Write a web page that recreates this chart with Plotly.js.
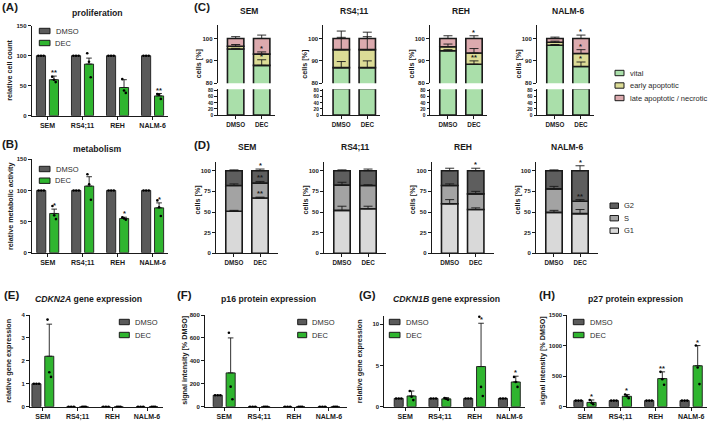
<!DOCTYPE html>
<html>
<head>
<meta charset="utf-8">
<script src="https://cdn.plot.ly/plotly-3.0.1.min.js"></script>
<style>
  html, body { margin: 0; padding: 0; background: #ffffff; }
  #fig { width: 709px; height: 421px; }
</style>
</head>
<body>
<div id="fig"></div>
<script>
// ---------------- data ----------------
const cellLines = ['SEM', 'RS4;11', 'REH', 'NALM-6'];
const treatments = ['DMSO', 'DEC'];

// (A) proliferation – relative cell count
const prolifDmso = [100, 100, 100, 100];
const prolifDec = [60, 86, 47, 33];
const prolifDecErr = [6, 10, 13, 4];
const prolifDmsoReps = [[100, 100, 100], [100, 100, 100], [100, 100, 100], [100, 100, 100]];
const prolifDecReps = [[65, 60, 56], [104, 90, 64], [61, 42, 38], [36, 35, 28]];
const prolifStars = ['**', '', '', '**'];

// (B) metabolism – relative metabolic activity
const metabDmso = [100, 100, 100, 100];
const metabDec = [63, 107, 55, 72];
const metabDecErr = [7, 15, 2, 8];
const metabDmsoReps = [[100, 100, 100], [100, 100, 100], [100, 100, 100], [100, 100, 100]];
const metabDecReps = [[75, 60, 54], [126, 110, 85], [57, 55, 53], [84, 73, 59]];
const metabStars = ['*', '', '*', '*'];

// (C) apoptosis – cells [%], per cell line: [DMSO, DEC]
const apoNames = ['vital', 'early apoptotic', 'late apoptotic / necrotic'];
const apoVital = [[95.3, 88], [87, 87], [94.5, 88.5], [97, 87.5]];
const apoEarly = [[1.2, 5], [8, 8], [1.8, 5], [1.3, 5.8]];
const apoLate = [[3.5, 7], [5, 5], [3.7, 6.5], [1.7, 6.7]];
const apoVitalErr = [[0.3, 2.5], [2.7, 3], [0.5, 1.5], [0.3, 2]];
const apoEarlyErr = [[0.8, 1], [5.5, 5.8], [1.2, 2], [0.5, 1.7]];
const apoLateErr = [[0.8, 1.5], [3.3, 2.8], [1.2, 1.2], [0.6, 1.5]];
const apoVitalStars = ['*', '', '**', '*'];
const apoEarlyStars = ['*', '', '', '*'];
const apoLateStars = ['', '', '*', '*'];

// (D) cell cycle – cells [%], per cell line: [DMSO, DEC]
const cycleNames = ['G1', 'S', 'G2'];
const cycleG1 = [[51, 67], [52, 54], [60, 53], [49.5, 48]];
const cycleS = [[31, 18], [30.5, 28], [22, 19], [28.5, 15]];
const cycleG2 = [[18, 15], [17.5, 18], [18, 28], [22, 37]];
const cycleG1Err = [[1, 1], [5, 3], [5, 2], [2.5, 5]];
const cycleSErr = [[2, 2], [3.5, 1], [2, 3], [3, 2]];
const cycleG2Err = [[1, 2], [1, 2], [3, 3], [1, 6]];
const cycleG1Stars = ['**', '', '', ''];
const cycleSStars = ['**', '', '', '**'];
const cycleG2Stars = ['*', '', '*', '*'];

// (E) CDKN2A gene expression
const cdkn2aDmso = [1, 0, 0, 0];
const cdkn2aDec = [2.2, 0, 0, 0];
const cdkn2aDecErr = [1.4, 0, 0, 0];
const cdkn2aDmsoReps = [[1, 1, 1], [0, 0, 0], [0, 0, 0], [0, 0, 0]];
const cdkn2aDecReps = [[3.8, 1.5, 1.3], [0, 0, 0], [0, 0, 0], [0, 0, 0]];
const cdkn2aStars = ['', '', '', ''];

// (F) p16 protein expression
const p16Dmso = [100, 0, 0, 0];
const p16Dec = [295, 0, 0, 0];
const p16DecErr = [305, 0, 0, 0];
const p16DmsoReps = [[100, 100, 100], [0, 0, 0], [0, 0, 0], [0, 0, 0]];
const p16DecReps = [[645, 175, 65], [0, 0, 0], [0, 0, 0], [0, 0, 0]];
const p16Stars = ['', '', '', ''];

// (G) CDKN1B gene expression
const cdkn1bDmso = [1, 1, 1, 1];
const cdkn1bDec = [1.3, 0.95, 4.87, 3.0];
const cdkn1bDecErr = [0.6, 0.15, 5.25, 0.7];
const cdkn1bDmsoReps = [[1, 1, 1], [1, 1, 1], [1, 1, 1], [1, 1, 1]];
const cdkn1bDecReps = [[1.9, 1.2, 0.8], [1.05, 0.95, 0.85], [10.9, 2.4, 1.3], [3.6, 3.0, 2.4]];
const cdkn1bStars = ['', '', '*', '*'];

// (H) p27 protein expression
const p27Dmso = [100, 100, 100, 100];
const p27Dec = [70, 170, 460, 670];
const p27DecErr = [40, 30, 110, 330];
const p27DmsoReps = [[100, 100, 100], [100, 100, 100], [100, 100, 100], [100, 100, 100]];
const p27DecReps = [[110, 60, 40], [200, 170, 140], [570, 450, 360], [1000, 640, 370]];
const p27Stars = ['*', '*', '**', '*'];

// ---------------- styling & helpers ----------------
const FONT = 'Liberation Sans, Arial, Helvetica, sans-serif';
const INK = '#1a1a1a';
const DMSO_COL = '#5a5a5a';
const DEC_COL = '#2fb52f';
const APO_COLS = ['#aadfaa', '#dcdc96', '#dcaaae'];
const CYCLE_COLS = ['#d9d9d9', '#a3a3a3', '#5e5e5e'];

const W = 709, H = 421;
const fx = v => v / W;
const fy = v => 1 - v / H;

const layout = {
  width: W, height: H,
  margin: { l: 0, r: 0, t: 0, b: 0 },
  paper_bgcolor: '#ffffff', plot_bgcolor: 'rgba(0,0,0,0)',
  showlegend: false, barmode: 'overlay',
  font: { family: FONT, color: INK },
  annotations: [], shapes: []
};
const data = [];
const overlay = [];

function axisBase() {
  return {
    showline: true, linecolor: INK, linewidth: 1,
    ticks: 'outside', ticklen: 3, tickwidth: 1, tickcolor: INK,
    showgrid: false, zeroline: false, fixedrange: true, automargin: false,
    tickmode: 'array',
    tickfont: { family: FONT, size: 6, color: INK, weight: 'bold' }
  };
}
let xCount = 0, yCount = 0;
const nextX = () => { xCount++; return xCount === 1 ? 'x' : 'x' + xCount; };
const nextY = () => { yCount++; return yCount === 1 ? 'y' : 'y' + yCount; };
function setAxis(id, opts) {
  const n = id.length > 1 ? id.slice(1) : '';
  layout[id[0] + 'axis' + n] = Object.assign(axisBase(), opts);
}
function errStyle(arr, capW) {
  return { type: 'data', array: arr, arrayminus: arr.map(() => 0), symmetric: false,
           color: INK, thickness: 0.9, width: capW };
}
function text(x, y, t, size, extra) {
  layout.annotations.push(Object.assign({
    xref: 'paper', yref: 'paper', x: fx(x), y: fy(y), text: t, showarrow: false,
    xanchor: 'center', yanchor: 'middle',
    font: { family: FONT, size: size, color: INK, weight: 'bold' }
  }, extra || {}));
}
function yTitle(x, y, t) { text(x, y, t, 7.2, { textangle: -90 }); }
function legendItem(x, y, color, label, boxW) {
  layout.shapes.push({ type: 'rect', xref: 'paper', yref: 'paper',
    x0: fx(x), x1: fx(x + boxW), y0: fy(y + 2.7), y1: fy(y - 2.7),
    fillcolor: color, line: { color: INK, width: 1 } });
  text(x + boxW + 3.5, y, label, 7.5,
       { xanchor: 'left', font: { family: FONT, size: 7.5, color: '#2a2a2a' } });
}
function star(xid, yid, x, y, s) {
  layout.annotations.push({ xref: xid, yref: yid, x: x, y: y, text: s, showarrow: false,
    xanchor: 'center', yanchor: 'bottom', yshift: -3,
    font: { family: FONT, size: 7.5, color: INK, weight: 'bold' } });
}

// ---------------- grouped DMSO / DEC bar panels ----------------
const SHIFT = 0.185, BW = 0.26;
const catIdx = cellLines.map((_, i) => i);

function dotTrace(xid, yid, reps, shift, spread) {
  const xs = [], ys = [];
  reps.forEach((r, i) => r.forEach((v, k) => {
    xs.push(catIdx[i] + shift + (k - (r.length - 1) / 2) * spread);
    ys.push(v);
  }));
  return { type: 'scatter', mode: 'markers', xaxis: xid, yaxis: yid, x: xs, y: ys,
           marker: { size: 2.6, color: '#000000' }, cliponaxis: false, hoverinfo: 'skip' };
}

function groupedPanel(p) {
  const xid = nextX(), yid = nextY();
  setAxis(xid, { domain: [fx(p.l), fx(p.r)], anchor: yid, range: p.xRange,
    tickvals: catIdx, ticktext: cellLines,
    tickfont: { family: FONT, size: 7, color: INK, weight: 'bold' } });
  setAxis(yid, { domain: [fy(p.b), fy(p.t)], anchor: xid, range: p.yRange, tickvals: p.yTicks });
  data.push({ type: 'bar', xaxis: xid, yaxis: yid, x: catIdx, y: p.dmso, name: treatments[0],
    width: BW, offset: -SHIFT - BW / 2,
    marker: { color: DMSO_COL, line: { color: INK, width: 0.9 } }, hoverinfo: 'skip' });
  data.push({ type: 'bar', xaxis: xid, yaxis: yid, x: catIdx, y: p.dec, name: treatments[1],
    width: BW, offset: SHIFT - BW / 2,
    marker: { color: DEC_COL, line: { color: INK, width: 0.9 } },
    error_y: errStyle(p.decErr, 2.8), hoverinfo: 'skip' });
  overlay.push(dotTrace(xid, yid, p.dmsoReps, -SHIFT, 0.075));
  overlay.push(dotTrace(xid, yid, p.decReps, SHIFT, 0.05));
  p.stars.forEach((s, i) => { if (s) star(xid, yid, catIdx[i] + SHIFT, p.dec[i] + p.decErr[i], s); });
  text(p.titleX, p.titleY, p.title, 8.7);
  text(p.letterX, p.letterY, p.letter, 11.5, { xanchor: 'left' });
  yTitle(p.yTitleX, (p.t + p.b) / 2, p.yTitle);
  legendItem(p.legX, p.legY, DMSO_COL, treatments[0], p.legW);
  legendItem(p.legX, p.legY + p.legStep, DEC_COL, treatments[1], p.legW);
}

groupedPanel({ l: 31.7, r: 168, t: 25.7, b: 115.7, xRange: [-0.45, 3.44], yRange: [0, 150],
  yTicks: [0, 50, 100, 150], dmso: prolifDmso, dec: prolifDec, decErr: prolifDecErr,
  dmsoReps: prolifDmsoReps, decReps: prolifDecReps, stars: prolifStars,
  title: 'proliferation', titleX: 97, titleY: 12.7, letter: '(A)', letterX: 0, letterY: 7.5,
  yTitle: 'relative cell count', yTitleX: 10, legX: 39.3, legY: 31, legStep: 12, legW: 10.7 });

groupedPanel({ l: 32, r: 168, t: 159.3, b: 252.7, xRange: [-0.45, 3.44], yRange: [0, 150],
  yTicks: [0, 50, 100, 150], dmso: metabDmso, dec: metabDec, decErr: metabDecErr,
  dmsoReps: metabDmsoReps, decReps: metabDecReps, stars: metabStars,
  title: 'metabolism', titleX: 97, titleY: 149.3, letter: '(B)', letterX: 0, letterY: 143.5,
  yTitle: 'relative metabolic activity', yTitleX: 10, legX: 39.3, legY: 169, legStep: 11.7, legW: 10.7 });

groupedPanel({ l: 30, r: 163, t: 315, b: 406.7, xRange: [-0.37, 3.46], yRange: [0, 4],
  yTicks: [0, 1, 2, 3, 4], dmso: cdkn2aDmso, dec: cdkn2aDec, decErr: cdkn2aDecErr,
  dmsoReps: cdkn2aDmsoReps, decReps: cdkn2aDecReps, stars: cdkn2aStars,
  title: '<i>CDKN2A</i> gene expression', titleX: 88, titleY: 299.3, letter: '(E)', letterX: 1.5, letterY: 294.7,
  yTitle: 'relative gene expression', yTitleX: 9, legX: 119.3, legY: 322, legStep: 13, legW: 10 });

groupedPanel({ l: 205, r: 346.7, t: 315, b: 406.7, xRange: [-0.55, 3.51], yRange: [0, 800],
  yTicks: [0, 200, 400, 600, 800], dmso: p16Dmso, dec: p16Dec, decErr: p16DecErr,
  dmsoReps: p16DmsoReps, decReps: p16DecReps, stars: p16Stars,
  title: 'p16 protein expression', titleX: 268, titleY: 299.3, letter: '(F)', letterX: 175, letterY: 294.7,
  yTitle: 'signal intensity [% DMSO]', yTitleX: 185, legX: 297.7, legY: 322, legStep: 13, legW: 9 });

groupedPanel({ l: 384.3, r: 525, t: 316, b: 406.7, xRange: [-0.6, 3.45], yRange: [0, 11],
  yTicks: [0, 5, 10], dmso: cdkn1bDmso, dec: cdkn1bDec, decErr: cdkn1bDecErr,
  dmsoReps: cdkn1bDmsoReps, decReps: cdkn1bDecReps, stars: cdkn1bStars,
  title: '<i>CDKN1B</i> gene expression', titleX: 446.7, titleY: 299.3, letter: '(G)', letterX: 356.7, letterY: 294.7,
  yTitle: 'relative gene expression', yTitleX: 359, legX: 389.3, legY: 322, legStep: 13, legW: 10.7 });

groupedPanel({ l: 567.3, r: 706.7, t: 315, b: 406.7, xRange: [-0.5, 3.44], yRange: [0, 1500],
  yTicks: [0, 500, 1000, 1500], dmso: p27Dmso, dec: p27Dec, decErr: p27DecErr,
  dmsoReps: p27DmsoReps, decReps: p27DecReps, stars: p27Stars,
  title: 'p27 protein expression', titleX: 635, titleY: 299.3, letter: '(H)', letterX: 536.7, letterY: 294.7,
  yTitle: 'signal intensity [% DMSO]', yTitleX: 542.5, legX: 573.3, legY: 322, legStep: 13, legW: 10.7 });

// ---------------- stacked DMSO / DEC panels ----------------
const SBW = 0.63;
const condIdx = treatments.map((_, i) => i);

function stack(xid, yids, errY, segs, errs, stars, colors) {
  const base = condIdx.map(() => 0);
  segs.forEach((seg, s) => {
    yids.forEach(yid => data.push({ type: 'bar', xaxis: xid, yaxis: yid, x: condIdx, y: seg,
      base: base.slice(), width: SBW,
      marker: { color: colors[s], line: { color: INK, width: 1.6 } }, hoverinfo: 'skip' }));
    const top = seg.map((v, k) => base[k] + v);
    overlay.push({ type: 'scatter', mode: 'markers', xaxis: xid, yaxis: errY, x: condIdx, y: top,
      marker: { size: 1, color: 'rgba(0,0,0,0)' }, error_y: errStyle(errs[s], 4.5),
      cliponaxis: false, hoverinfo: 'skip' });
    if (stars[s]) star(xid, errY, condIdx[1], top[1] + errs[s][1], stars[s]);
    top.forEach((v, k) => { base[k] = v; });
  });
}

const catFontSmall = { family: FONT, size: 6.3, color: INK, weight: 'bold' };
const APO_LEFT = [217.7, 323.3, 430, 537];
const CYCLE_LEFT = [216, 324, 431.7, 536];

cellLines.forEach((line, i) => {
  // (C) broken-axis apoptosis panel
  const l = APO_LEFT[i];
  const xid = nextX(), yLow = nextY(), yUp = nextY();
  setAxis(xid, { domain: [fx(l), fx(l + 57)], anchor: yLow, range: [-0.69, 1.5],
    tickvals: condIdx, ticktext: treatments, tickfont: catFontSmall });
  setAxis(yLow, { domain: [fy(115), fy(89.3)], anchor: xid, range: [0, 84.6],
    tickvals: [0, 20, 40, 60, 80], ticklen: 2.5,
    tickfont: { family: FONT, size: 4.8, color: INK, weight: 'bold' } });
  setAxis(yUp, { domain: [fy(83.3), fy(25)], anchor: xid, range: [80, 106],
    tickvals: [80, 90, 100] });
  stack(xid, [yLow, yUp], yUp,
    [apoVital[i], apoEarly[i], apoLate[i]],
    [apoVitalErr[i], apoEarlyErr[i], apoLateErr[i]],
    [apoVitalStars[i], apoEarlyStars[i], apoLateStars[i]], APO_COLS);
  text(l + 31, 11.2, line, 8.5);
  text(l - 19.5, 64, 'cells [%]', 7.2, { textangle: -90 });

  // (D) cell cycle panel
  const d = CYCLE_LEFT[i];
  const xd = nextX(), yd = nextY();
  setAxis(xd, { domain: [fx(d), fx(d + 62)], anchor: yd, range: [-0.69, 1.69],
    tickvals: condIdx, ticktext: treatments, tickfont: catFontSmall });
  setAxis(yd, { domain: [fy(253.3), fy(161.7)], anchor: xd, range: [0, 110.9],
    tickvals: [0, 25, 50, 75, 100] });
  stack(xd, [yd], yd,
    [cycleG1[i], cycleS[i], cycleG2[i]],
    [cycleG1Err[i], cycleSErr[i], cycleG2Err[i]],
    [cycleG1Stars[i], cycleSStars[i], cycleG2Stars[i]], CYCLE_COLS);
  text(d + 31, 147.3, line, 8.5);
  text(d - 19.5, 200, 'cells [%]', 7.2, { textangle: -90 });
});

text(191.7, 6.7, '(C)', 11.5, { xanchor: 'left' });
text(191.7, 145, '(D)', 11.5, { xanchor: 'left' });

// legends of the stacked panels
apoNames.forEach((n, s) => legendItem(615, 73 + s * 12.5, APO_COLS[s], n, 9));
cycleNames.slice().reverse().forEach((n, s) =>
  legendItem(610, 205.7 + s * 12.5, CYCLE_COLS[cycleNames.length - 1 - s], n, 8.5));

Plotly.newPlot('fig', data.concat(overlay), layout, { staticPlot: true, displayModeBar: false });
</script>
</body>
</html>
